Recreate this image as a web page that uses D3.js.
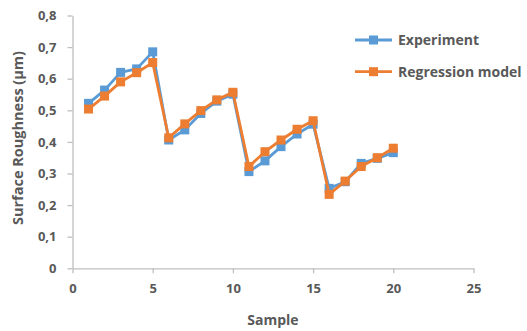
<!DOCTYPE html>
<html><head><meta charset="utf-8">
<script src="https://cdn.jsdelivr.net/npm/d3@7"></script>
<style>body{margin:0;background:#fff}svg{display:block}</style>
</head><body>
<script>
const samples = d3.range(1, 21);
const experiment = [0.522,0.564,0.620,0.631,0.685,0.406,0.438,0.490,0.529,0.551,0.306,0.340,0.385,0.425,0.456,0.253,0.274,0.332,0.348,0.366];
const regression = [0.504,0.545,0.590,0.619,0.651,0.413,0.457,0.499,0.533,0.557,0.322,0.369,0.406,0.440,0.467,0.234,0.276,0.322,0.350,0.380];
const xTicks = [0,5,10,15,20,25];
const yTicks = [0,0.1,0.2,0.3,0.4,0.5,0.6,0.7,0.8];
const seriesNames = ["Experiment","Regression model"];
const colors = ["#5B9BD5","#ED7D31"];

const W=527,H=331;
const svg=d3.select("body").append("svg").attr("width",W).attr("height",H);
const x=d3.scaleLinear().domain([0,25]).range([72.5,473.5]);
const y=d3.scaleLinear().domain([0,0.8]).range([268.3,15.5]);
const font="'Open Sans', sans-serif";
const tc="#595959";

const xa=svg.append("g").attr("transform",`translate(0,${y(0)})`)
 .call(d3.axisBottom(x).tickValues(xTicks).tickSize(5).tickSizeOuter(0).tickPadding(10).tickFormat(d3.format("d")));
const ya=svg.append("g").attr("transform",`translate(${x(0)},0)`)
 .call(d3.axisLeft(y).tickValues(yTicks).tickSize(5).tickSizeOuter(0).tickPadding(11).tickFormat(d=>d===0?"0":d3.format(".1f")(d).replace(".",",")));
[xa,ya].forEach(a=>{
 a.selectAll("path,line").attr("stroke","#BFBFBF").attr("stroke-width",1.3);
 a.selectAll("text").attr("fill",tc).attr("font-family",font).attr("font-weight","bold").attr("font-size",13);
});

svg.append("text").attr("x",(x(0)+x(25))/2).attr("y",325).attr("text-anchor","middle")
 .attr("fill",tc).attr("font-family",font).attr("font-weight","bold").attr("font-size",14).text("Sample");
svg.append("text").attr("transform",`translate(23,138) rotate(-90)`).attr("text-anchor","middle")
 .attr("fill",tc).attr("font-family",font).attr("font-weight","bold").attr("font-size",14.5).text("Surface Roughness (µm)");

const data=[experiment,regression];
const line=d3.line().x((d,i)=>x(samples[i])).y(d=>y(d));
data.forEach((vals,k)=>{
 const g=svg.append("g");
 g.append("path").attr("d",line(vals)).attr("fill","none").attr("stroke",colors[k]).attr("stroke-width",2.8).attr("stroke-linejoin","round");
 g.selectAll("rect").data(vals).enter().append("rect")
  .attr("x",(d,i)=>x(samples[i])-4.5).attr("y",d=>y(d)-4.5).attr("width",9).attr("height",9).attr("fill",colors[k]);
});

const leg=svg.append("g");
seriesNames.forEach((n,k)=>{
 const ly=40+k*31.7;
 leg.append("line").attr("x1",355).attr("x2",392).attr("y1",ly).attr("y2",ly).attr("stroke",colors[k]).attr("stroke-width",2.8);
 leg.append("rect").attr("x",373.5-4.5).attr("y",ly-4.5).attr("width",9).attr("height",9).attr("fill",colors[k]);
 leg.append("text").attr("x",398).attr("y",ly).attr("dy","0.35em").attr("fill",tc).attr("font-family",font)
  .attr("font-weight","bold").attr("font-size",14).text(n);
});
</script>
</body></html>
